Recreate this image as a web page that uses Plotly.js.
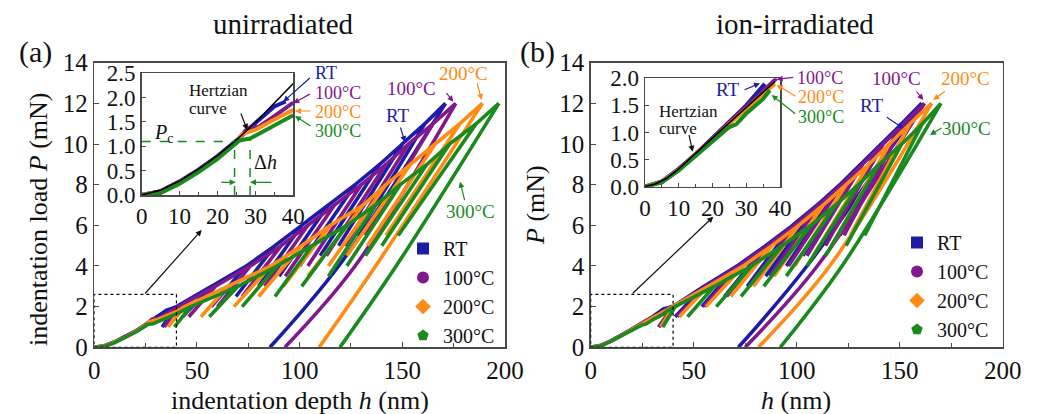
<!DOCTYPE html>
<html><head><meta charset="utf-8">
<script src="https://cdn.plot.ly/plotly-3.0.1.min.js"></script>
<style>html,body{margin:0;padding:0;background:#fff}#chart{width:1038px;height:414px}</style>
</head><body><div id="chart"></div>
<script>
// ---------------- DATA ----------------
const tempNames = ["RT", "100°C", "200°C", "300°C"];
const peakLoad   = [2, 3, 4, 5, 6, 7, 8, 9, 10, 11, 12];          // mN, peak of each cycle
const unloadLoad = [1, 1.5, 2, 2.5, 3, 3.5, 4, 4.5, 5, 5.5, 0];    // mN, end of each unloading
const finalMidLoad = 4;                                            // mN, read point on last unloading

// (a) unirradiated: depth at each peak / at each unloading end (nm)
const aPeakRT  = [40, 57, 74, 88, 101, 114, 127, 139, 150, 161, 171];
const aUnRT    = [33, 43, 57, 69, 80, 90, 100, 110, 119, 128, 85.5];
const aPeak100 = [41, 59, 76, 91, 104, 117, 130, 142, 153, 165, 176];
const aUn100   = [34, 46, 60, 72, 83, 93, 104, 113, 122, 132, 92.8];
const aPeak200 = [44, 65, 86, 101, 115, 131, 142, 154, 166, 178, 189];
const aUn200   = [36, 52, 68, 80, 92, 104, 114, 123, 133, 142, 109.5];
const aPeak300 = [47, 70, 89, 106, 123, 137, 149, 162, 173, 186, 197];
const aUn300   = [39, 56, 72, 88, 101, 114, 123, 132, 140, 148, 119.6];
const aFinalMidH = [119, 127, 137, 147];   // depth of last unloading at 4 mN (RT,100,200,300)

// (a) initial loading (inset, 0-40 nm)
const aInH_RT  = [0, 5, 10, 15, 20, 25, 30, 35, 38];
const aInP_RT  = [0, 0.08, 0.28, 0.52, 0.8, 1.12, 1.48, 1.82, 1.92];
const aInH_100 = [0, 5, 10, 15, 20, 25, 28, 30.8, 35, 40];
const aInP_100 = [0, 0.07, 0.27, 0.5, 0.78, 1.1, 1.38, 1.4, 1.62, 1.9];
const aInH_200 = [0, 5, 10, 15, 20, 25, 26.5, 30.3, 35, 40];
const aInP_200 = [0, 0.06, 0.26, 0.49, 0.77, 1.08, 1.25, 1.35, 1.55, 1.75];
const aInH_300 = [0, 5, 10, 15, 20, 25, 25.8, 28.6, 32, 36, 40];
const aInP_300 = [0, 0.04, 0.23, 0.47, 0.74, 1.05, 1.12, 1.16, 1.3, 1.47, 1.64];
const aHertzH  = [0, 5, 10, 15, 20, 25, 30, 35, 40];
const aHertzP  = [0, 0.1, 0.29, 0.53, 0.81, 1.13, 1.49, 1.88, 2.29];

// (b) ion-irradiated
const bPeakRT  = [40, 55, 71, 85, 98, 110, 121, 131, 141, 151, 160.7];
const bUnRT    = [33, 41, 54, 65, 76, 85, 95, 103, 112, 121, 71.7];
const bPeak100 = [40, 56, 72, 86, 99, 111, 122, 132, 142, 152, 162];
const bUn100   = [33, 42, 55, 66, 77, 87, 96, 105, 114, 123, 75];
const bPeak200 = [40, 57, 74, 88, 101, 113, 124, 135, 145, 155, 165.5];
const bUn200   = [34, 43, 56, 68, 79, 89, 99, 108, 117, 126, 81.4];
const bPeak300 = [41, 60, 78, 93, 107, 119, 130, 140, 151, 161, 170];
const bUn300   = [35, 47, 61, 73, 84, 95, 105, 114, 124, 133, 92];
const bFinalMidH = [105, 110, 116, 122];

const bInH_RT  = [0, 5, 10, 15, 20, 25, 30, 35.5];
const bInP_RT  = [0, 0.1, 0.33, 0.6, 0.9, 1.2, 1.5, 1.9];
const bInH_100 = [0, 5, 10, 15, 20, 25, 30, 35, 39];
const bInP_100 = [0, 0.09, 0.32, 0.59, 0.88, 1.18, 1.48, 1.78, 2.0];
const bInH_200 = [0, 5, 10, 15, 20, 25, 30, 35, 38.5];
const bInP_200 = [0, 0.09, 0.31, 0.58, 0.87, 1.16, 1.45, 1.72, 1.9];
const bInH_300 = [0, 5, 10, 15, 20, 25, 27, 30, 35, 37];
const bInP_300 = [0, 0.08, 0.3, 0.56, 0.84, 1.1, 1.15, 1.35, 1.62, 1.78];
const bHertzH  = [0, 3, 6.3, 10, 14, 20, 25, 30, 35, 38.5];
const bHertzP  = [0, 0.05, 0.15, 0.33, 0.56, 0.9, 1.18, 1.46, 1.74, 1.94];

// ---------------- STYLE ----------------
const W = 1038, H = 414;
const SERIF = "Liberation Serif";
const COLORS = ["#1c1ca6", "#81188d", "#ff8a14", "#1a8a1e"];
const SYMBOLS = ["square", "circle", "diamond", "pentagon"];

// cyclic loading path up to the last peak (linear), plus final unloading (smooth)
function buildPath(h0, p0, pkH, unH) {
  const xs = h0.slice(), ys = p0.slice();
  const n = pkH.length;
  for (let i = 0; i < n; i++) {
    xs.push(pkH[i]); ys.push(peakLoad[i]);
    if (i < n - 1) {
      xs.push(unH[i]); ys.push(unloadLoad[i]);
      xs.push(pkH[i]); ys.push(peakLoad[i]);
    }
  }
  return [xs, ys];
}
function finalUnload(pkH, unH, mid) {
  const n = pkH.length;
  return [[pkH[n - 1], mid, unH[n - 1]], [peakLoad[n - 1], finalMidLoad, unloadLoad[n - 1]]];
}

const traces = [];
const aSets = [[aInH_RT, aInP_RT, aPeakRT, aUnRT], [aInH_100, aInP_100, aPeak100, aUn100],
               [aInH_200, aInP_200, aPeak200, aUn200], [aInH_300, aInP_300, aPeak300, aUn300]];
const bSets = [[bInH_RT, bInP_RT, bPeakRT, bUnRT], [bInH_100, bInP_100, bPeak100, bUn100],
               [bInH_200, bInP_200, bPeak200, bUn200], [bInH_300, bInP_300, bPeak300, bUn300]];

function addMain(sets, mids, xa, ya) {
  sets.forEach((s, i) => {
    const [x, y] = buildPath(s[0], s[1], s[2], s[3]);
    traces.push({x, y, xaxis: xa, yaxis: ya, mode: "lines", showlegend: false,
      line: {color: COLORS[i], width: 3.6}, hoverinfo: "skip"});
    const [fx, fy] = finalUnload(s[2], s[3], mids[i]);
    traces.push({x: fx, y: fy, xaxis: xa, yaxis: ya, mode: "lines", showlegend: false,
      line: {color: COLORS[i], width: 3.6, shape: "spline", smoothing: 1}, hoverinfo: "skip"});
  });
}
addMain(aSets, aFinalMidH, "x", "y");
addMain(bSets, bFinalMidH, "x2", "y2");
// insets
aSets.forEach((s, i) => traces.push({x: s[0], y: s[1], xaxis: "x3", yaxis: "y3", mode: "lines",
  showlegend: false, line: {color: COLORS[i], width: 4}, hoverinfo: "skip"}));
traces.push({x: aHertzH, y: aHertzP, xaxis: "x3", yaxis: "y3", mode: "lines", showlegend: false,
  line: {color: "#000", width: 1.6}, cliponaxis: false});
bSets.forEach((s, i) => traces.push({x: s[0], y: s[1], xaxis: "x4", yaxis: "y4", mode: "lines",
  showlegend: false, line: {color: COLORS[i], width: 4}, hoverinfo: "skip"}));
traces.push({x: bHertzH, y: bHertzP, xaxis: "x4", yaxis: "y4", mode: "lines", showlegend: false,
  line: {color: "#000", width: 1.6}});
// legend entries
tempNames.forEach((n, i) => {
  traces.push({x: [null], y: [null], xaxis: "x", yaxis: "y", mode: "markers", name: n, legend: "legend",
    marker: {symbol: SYMBOLS[i], color: COLORS[i], size: 12}});
  traces.push({x: [null], y: [null], xaxis: "x2", yaxis: "y2", mode: "markers", name: n, legend: "legend2",
    marker: {symbol: SYMBOLS[i], color: COLORS[i], size: 12}});
});

const px = v => v / W, py = v => 1 - v / H;
function axisBase(extra) {
  return Object.assign({showgrid: false, zeroline: false, showline: true, mirror: true,
    linecolor: "#4a4a4a", linewidth: 1.5, ticks: "inside", ticklen: 5, tickcolor: "#4a4a4a",
    tickfont: {family: SERIF, size: 25, color: "#111"}, fixedrange: true}, extra);
}
const mainYd = [py(347.3), py(62.7)];
const smallTick = {family: SERIF, size: 23, color: "#111"};
const layout = {
  width: W, height: H, margin: {l: 0, r: 0, t: 0, b: 0},
  font: {family: SERIF, color: "#111"},
  paper_bgcolor: "#fff", plot_bgcolor: "#fff",
  xaxis: axisBase({domain: [px(94.3), px(505)], range: [0, 200], dtick: 50, anchor: "y",
    minor: {dtick: 25, ticks: "inside", ticklen: 4, tickcolor: "#4a4a4a"}}),
  yaxis: axisBase({domain: mainYd, range: [0, 14], dtick: 2, anchor: "x"}),
  xaxis2: axisBase({domain: [px(590.7), px(1002.7)], range: [0, 200], dtick: 50, anchor: "y2",
    minor: {dtick: 25, ticks: "inside", ticklen: 4, tickcolor: "#4a4a4a"}}),
  yaxis2: axisBase({domain: mainYd, range: [0, 14], dtick: 2, anchor: "x2"}),
  xaxis3: axisBase({domain: [px(141.7), px(293.3)], range: [0, 40], dtick: 10, anchor: "y3",
    tickfont: smallTick, ticklen: 4,
    minor: {dtick: 5, ticks: "inside", ticklen: 3, tickcolor: "#4a4a4a"}}),
  yaxis3: axisBase({domain: [py(195), py(73.3)], range: [0, 2.5], dtick: 0.5, anchor: "x3",
    tickformat: ".1f", tickfont: smallTick, ticklen: 4}),
  xaxis4: axisBase({domain: [px(645), px(780)], range: [0, 40], dtick: 10, anchor: "y4",
    tickfont: smallTick, ticklen: 4,
    minor: {dtick: 5, ticks: "inside", ticklen: 3, tickcolor: "#4a4a4a"}}),
  yaxis4: axisBase({domain: [py(186.7), py(78.3)], range: [0, 2.0], dtick: 0.5, anchor: "x4",
    tickformat: ".1f", tickfont: smallTick, ticklen: 4}),
  legend: {x: px(403), y: py(229), xanchor: "left", yanchor: "top", bgcolor: "rgba(0,0,0,0)",
    font: {family: SERIF, size: 20, color: "#111"}, tracegroupgap: 0},
  legend2: {x: px(897), y: py(223), xanchor: "left", yanchor: "top", bgcolor: "rgba(0,0,0,0)",
    font: {family: SERIF, size: 20, color: "#111"}, tracegroupgap: 0},
  shapes: [
    {type: "rect", xref: "x", yref: "y", x0: 0, x1: 40, y0: 0, y1: 2.6, line: {color: "#000", width: 1.2, dash: "dot"}},
    {type: "rect", xref: "x2", yref: "y2", x0: 0, x1: 40, y0: 0, y1: 2.6, line: {color: "#000", width: 1.2, dash: "dot"}},
    {type: "line", xref: "x3", yref: "y3", x0: 0, x1: 24.5, y0: 1.1, y1: 1.1, line: {color: COLORS[3], width: 1.5, dash: "dash"}},
    {type: "line", xref: "x3", yref: "y3", x0: 24.5, x1: 24.5, y0: 0, y1: 1.1, line: {color: COLORS[3], width: 1.5, dash: "dash"}},
    {type: "line", xref: "x3", yref: "y3", x0: 28.6, x1: 28.6, y0: 0, y1: 1.15, line: {color: COLORS[3], width: 1.5, dash: "dash"}}
  ],
  annotations: []
};
function txt(x, y, text, color, size, extra) {
  layout.annotations.push(Object.assign({xref: "paper", yref: "paper", x: px(x), y: py(y), text,
    showarrow: false, xanchor: "center", yanchor: "middle",
    font: {family: SERIF, size, color}}, extra || {}));
}
function arr(hx, hy, ax, ay, color) {
  layout.annotations.push({xref: "paper", yref: "paper", x: px(hx), y: py(hy), ax, ay,
    axref: "pixel", ayref: "pixel", text: "", showarrow: true, arrowhead: 2, arrowsize: 1,
    arrowwidth: 1.2, arrowcolor: color, standoff: 0});
}
// titles & labels
txt(283, 24, "unirradiated", "#111", 29);
txt(795, 24, "ion-irradiated", "#111", 29);
txt(35, 52, "(a)", "#111", 30);
txt(537, 52, "(b)", "#111", 30);
txt(300, 400, "indentation depth <i>h</i> (nm)", "#111", 26);
txt(38, 220, "indentation load <i>P</i> (mN)", "#111", 26, {textangle: -90});
txt(796, 400, "<i>h</i> (nm)", "#111", 26);
txt(535, 205, "<i>P</i> (mN)", "#111", 26, {textangle: -90});
// (a) main callouts
txt(398, 115, "RT", COLORS[0], 19);
txt(411.7, 88.3, "100°C", COLORS[1], 19);
txt(463.3, 73.3, "200°C", COLORS[2], 19);
txt(470, 211.7, "300°C", COLORS[3], 19);
arr(405, 142, -5, -16, COLORS[0]);
arr(453.3, 101.7, -8, -10, COLORS[1]);
arr(481.7, 100, -5, -18, COLORS[2]);
arr(460, 181.7, 5, 20, COLORS[3]);
arr(201.7, 230, -58, 65, "#111");
// (a) inset callouts
txt(313, 73.3, "RT", COLORS[0], 18, {xanchor: "left"});
txt(313, 92.5, "100°C", COLORS[1], 18, {xanchor: "left"});
txt(313, 111.7, "200°C", COLORS[2], 18, {xanchor: "left"});
txt(313, 131, "300°C", COLORS[3], 18, {xanchor: "left"});
arr(283.3, 101.7, 28, -25, COLORS[0]);
arr(293.3, 103.3, 18, -10, COLORS[1]);
arr(295, 111, 17, 0, COLORS[2]);
arr(295, 116, 17, 11, COLORS[3]);
txt(186.7, 91, "Hertzian", "#111", 17, {xanchor: "left"});
txt(186.7, 108, "curve", "#111", 17, {xanchor: "left"});
arr(247.3, 130, -7, -18, "#111");
txt(163.3, 133.3, "<i>P</i><sub>c</sub>", "#111", 20);
txt(265, 161.7, "Δ<i>h</i>", "#111", 20);
arr(235.7, 182.3, -16, 0, COLORS[3]);
arr(250, 182.3, 23, 0, COLORS[3]);
// (b) main callouts
txt(896.7, 78.3, "100°C", COLORS[1], 19);
txt(965, 78.3, "200°C", COLORS[2], 19);
txt(871.7, 105, "RT", COLORS[0], 19);
txt(966.7, 128.3, "300°C", COLORS[3], 19);
arr(923.3, 100, -8, -10, COLORS[1]);
arr(933.3, 100, 13, -10, COLORS[2]);
arr(903.3, 128.3, -18, -12, COLORS[0]);
arr(930, 135, 13, -8, COLORS[3]);
arr(713.3, 216.7, -82, 78, "#111");
// (b) inset callouts
txt(728.3, 90, "RT", COLORS[0], 19);
txt(795, 77.7, "100°C", COLORS[1], 18, {xanchor: "left"});
txt(796, 96.7, "200°C", COLORS[2], 18, {xanchor: "left"});
txt(796, 117.3, "300°C", COLORS[3], 18, {xanchor: "left"});
arr(760, 83.3, -17, 7, COLORS[0]);
arr(776.7, 79.3, 18, -2, COLORS[1]);
arr(776.7, 85, 20, 12, COLORS[2]);
arr(771.7, 95, 25, 20, COLORS[3]);
txt(656.7, 111, "Hertzian", "#111", 17, {xanchor: "left"});
txt(656.7, 128, "curve", "#111", 17, {xanchor: "left"});
arr(692.7, 151.7, -4, -18, "#111");

Plotly.newPlot("chart", traces, layout, {staticPlot: true, displayModeBar: false});
</script></body></html>
